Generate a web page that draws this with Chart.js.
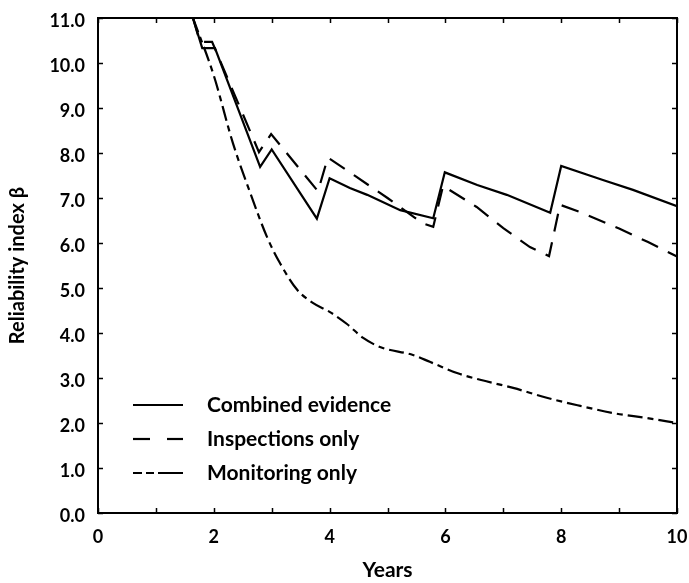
<!DOCTYPE html>
<html>
<head>
<meta charset="utf-8">
<script src="https://cdn.jsdelivr.net/npm/chart.js@4/dist/chart.umd.min.js"></script>
<style>
html,body{margin:0;padding:0;background:#fff;}
canvas{display:block;}
</style>
</head>
<body>
<canvas id="c" width="689" height="583"></canvas>
<script>
// ---- data ----
const seriesLabels = ['Combined evidence', 'Inspections only', 'Monitoring only'];

const combinedYears = [1.64, 1.8, 2.02, 2.8, 3.0, 3.78, 4.0, 4.35, 4.65, 5.22, 5.79, 5.99, 6.55, 7.06, 7.81, 8.0, 8.72, 9.24, 10];
const combinedBeta  = [11.0, 10.33, 10.33, 7.69, 8.08, 6.54, 7.44, 7.22, 7.07, 6.73, 6.55, 7.57, 7.29, 7.07, 6.67, 7.71, 7.40, 7.18, 6.82];

const inspectYears = [1.64, 1.76, 1.97, 2.78, 2.99, 3.8, 3.97, 4.44, 5.0, 5.6, 5.79, 5.96, 6.54, 7.0, 7.46, 7.79, 7.98, 8.38, 9.0, 9.5, 10];
const inspectBeta  = [11.0, 10.47, 10.47, 8.02, 8.42, 7.15, 7.9, 7.49, 7.0, 6.44, 6.36, 7.27, 6.8, 6.33, 5.91, 5.71, 6.85, 6.66, 6.32, 6.02, 5.7];

const monitorYears = [1.64, 2.0, 2.33, 2.63, 2.92, 3.14, 3.44, 3.71, 4.0, 4.3, 4.58, 4.87, 5.44, 5.73, 6.2, 6.6, 7.17, 7.75, 8.33, 8.9, 9.48, 10];
const monitorBeta  = [11.0, 9.72, 8.22, 7.11, 6.13, 5.56, 4.96, 4.67, 4.47, 4.2, 3.89, 3.69, 3.51, 3.36, 3.11, 2.96, 2.78, 2.56, 2.38, 2.22, 2.11, 2.0];

const xRange = [0, 10];
const yRange = [0, 11];
const xTitle = 'Years';
const yTitle = 'Reliability index β';

// ---- helpers ----
const pts = (xs, ys) => xs.map((x, i) => ({x: x, y: ys[i]}));
const FONT = 'Lato, "Open Sans", sans-serif';

const boxPlugin = {
  id: 'boxTicks',
  afterDatasetsDraw(chart) {
    const {ctx, chartArea: a, scales: {x, y}} = chart;
    ctx.save();
    ctx.strokeStyle = '#000';
    ctx.lineWidth = 2;
    ctx.strokeRect(a.left, a.top, a.right - a.left, a.bottom - a.top);
    ctx.lineWidth = 1.5;
    const tl = 5;
    ctx.beginPath();
    for (let v = x.min; v <= x.max; v += 1) {
      const px = Math.round(x.getPixelForValue(v)) + 0.5;
      ctx.moveTo(px, a.bottom); ctx.lineTo(px, a.bottom - tl);
      ctx.moveTo(px, a.top); ctx.lineTo(px, a.top + tl);
    }
    for (let v = y.min; v <= y.max; v += 1) {
      const py = Math.round(y.getPixelForValue(v)) + 0.5;
      ctx.moveTo(a.left, py); ctx.lineTo(a.left + tl, py);
      ctx.moveTo(a.right, py); ctx.lineTo(a.right - tl, py);
    }
    ctx.stroke();
    ctx.restore();
  }
};

const legendPlugin = {
  id: 'insideLegend',
  afterDraw(chart) {
    const {ctx} = chart;
    const x0 = 133, x1 = 183, tx = 207;
    const rows = [405, 439, 473];
    ctx.save();
    chart.data.datasets.forEach((ds, i) => {
      const yy = rows[i];
      ctx.strokeStyle = '#000';
      ctx.lineWidth = ds.borderWidth;
      ctx.setLineDash(ds.legendDash || ds.borderDash || []);
      ctx.beginPath();
      ctx.moveTo(x0, yy); ctx.lineTo(x1, yy);
      ctx.stroke();
      ctx.setLineDash([]);
      ctx.fillStyle = '#000';
      ctx.font = 'bold 21px ' + FONT;
      ctx.textBaseline = 'middle';
      ctx.textAlign = 'left';
      ctx.fillText(ds.label, tx, yy);
    });
    ctx.restore();
  }
};

new Chart(document.getElementById('c'), {
  type: 'line',
  data: {
    datasets: [
      {label: seriesLabels[0], data: pts(combinedYears, combinedBeta), borderColor: '#000', borderWidth: 2.2, pointRadius: 0, tension: 0, fill: false},
      {label: seriesLabels[1], data: pts(inspectYears, inspectBeta), borderColor: '#000', borderWidth: 2.2, borderDash: [18, 11], legendDash: [17, 17], pointRadius: 0, tension: 0, fill: false},
      {label: seriesLabels[2], data: pts(monitorYears, monitorBeta), borderColor: '#000', borderWidth: 2.2, borderDash: [15, 5, 6, 5], legendDash: [9, 4, 8, 4, 30], pointRadius: 0, cubicInterpolationMode: 'monotone', fill: false}
    ]
  },
  options: {
    responsive: false,
    devicePixelRatio: 1,
    animation: false,
    layout: {padding: {left: 0, right: 12, top: 18, bottom: 0}},
    plugins: {legend: {display: false}, tooltip: {enabled: false}},
    scales: {
      x: {
        type: 'linear', min: xRange[0], max: xRange[1],
        grid: {display: false, drawTicks: false},
        border: {display: false},
        ticks: {stepSize: 2, color: '#000', font: {family: FONT, size: 18, weight: 'bold'}, padding: 13, maxRotation: 0},
        title: {display: true, text: xTitle, color: '#000', font: {family: FONT, size: 21, weight: 'bold'}, padding: {top: 0, bottom: 0}},
        afterFit(s) { s.height = 70; s.paddingLeft = 0; s.paddingRight = 0; }
      },
      y: {
        type: 'linear', min: yRange[0], max: yRange[1],
        grid: {display: false, drawTicks: false},
        border: {display: false},
        ticks: {stepSize: 1, color: '#000', font: {family: FONT, size: 18, weight: 'bold'}, padding: 13, labelOffset: 3,
          callback: v => Number(v).toFixed(1)},
        title: {display: true, text: yTitle, color: '#000', font: {family: FONT, size: 20, weight: 'bold'}, padding: {top: 6, bottom: 0}},
        afterFit(s) { s.width = 98; s.paddingTop = 0; s.paddingBottom = 0; }
      }
    }
  },
  plugins: [boxPlugin, legendPlugin]
});
</script>
</body>
</html>
